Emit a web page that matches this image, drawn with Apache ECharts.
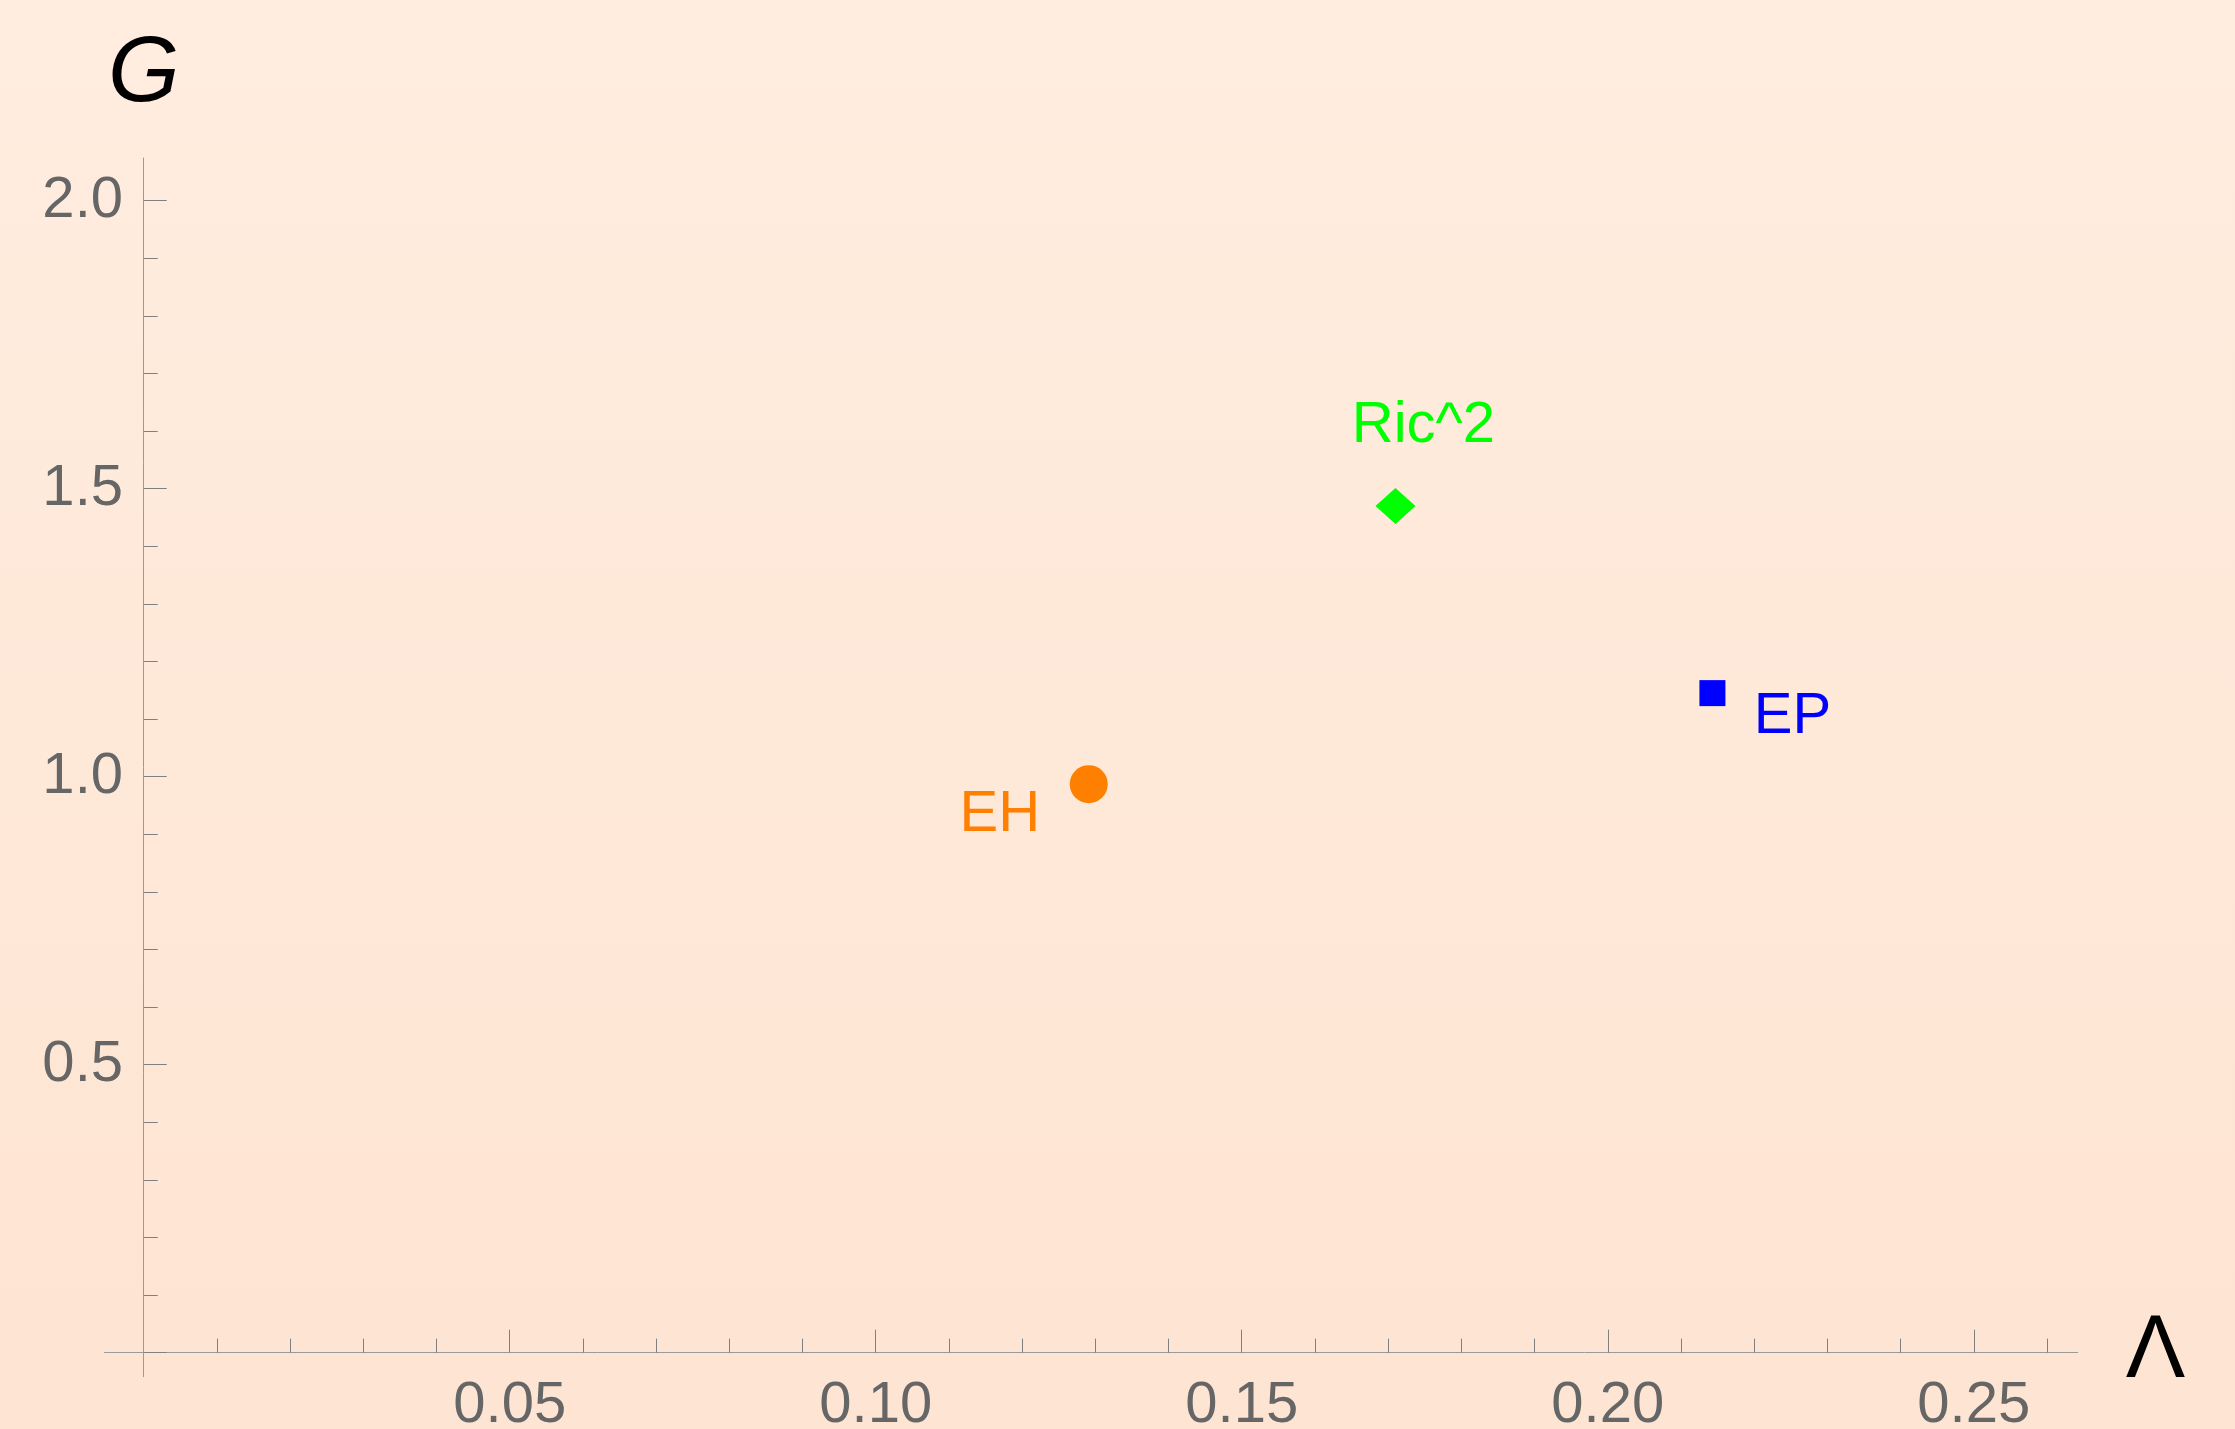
<!DOCTYPE html>
<html>
<head>
<meta charset="utf-8">
<title>G vs Λ</title>
<script src="https://cdn.jsdelivr.net/npm/echarts@6/dist/echarts.min.js"></script>
<style>
  html, body { margin: 0; padding: 0; background: #FFE9D8; }
  #chart { width: 2235px; height: 1429px; }
</style>
</head>
<body>
<div id="chart"></div>
<script>
// Points: Λ (horizontal) against G (vertical)
const pointNames = ['EH', 'Ric^2', 'EP'];
const lambdaValues = [0.1291, 0.1710, 0.2143];
const gValues = [0.987, 1.470, 1.145];

// Tick positions
const xMajorTicks = [0.05, 0.10, 0.15, 0.20, 0.25];
const xMinorTicks = [0.01, 0.02, 0.03, 0.04, 0.06, 0.07, 0.08, 0.09,
                     0.11, 0.12, 0.13, 0.14, 0.16, 0.17, 0.18, 0.19,
                     0.21, 0.22, 0.23, 0.24, 0.26];
const yMajorTicks = [0, 0.5, 1.0, 1.5, 2.0];
const yLabelTicks = [0.5, 1.0, 1.5, 2.0];
const yMinorTicks = [0.1, 0.2, 0.3, 0.4, 0.6, 0.7, 0.8, 0.9,
                     1.1, 1.2, 1.3, 1.4, 1.6, 1.7, 1.8, 1.9];

// Axis extents (axes cross at the origin and overhang slightly)
const xRange = [-0.00536, 0.2642];
const yRange = [-0.0417, 2.074];

const FONT = "'Liberation Sans', Arial, Helvetica, sans-serif";
const AXIS_GRAY = '#9a9a9a';
const TICK_GRAY = '#808080';
const LABEL_GRAY = '#666666';

const markerStyles = [
  { symbol: 'circle',  size: 38,       color: '#FF7F00', offset: [-89, 31] },
  { symbol: 'diamond', size: [40, 36], color: '#00FF00', offset: [28, -80] },
  { symbol: 'rect',    size: 26,       color: '#0000FF', offset: [80, 24] }
];

const chart = echarts.init(document.getElementById('chart'), null, { renderer: 'canvas' });

function mainAxis(range, dim) {
  const isX = dim === 'x';
  return {
    type: 'value',
    min: range[0],
    max: range[1],
    position: isX ? 'bottom' : 'left',
    splitLine: { show: false },
    axisLine: { show: true, onZero: true, lineStyle: { color: AXIS_GRAY, width: 1 } },
    axisTick: {
      show: true, inside: true, length: 23,
      lineStyle: { color: TICK_GRAY, width: 1 },
      customValues: isX ? xMajorTicks : yMajorTicks
    },
    axisLabel: {
      show: true,
      customValues: isX ? xMajorTicks : yLabelTicks,
      formatter: v => isX ? v.toFixed(2) : v.toFixed(1),
      color: LABEL_GRAY,
      fontFamily: FONT,
      fontSize: 58,
      margin: isX ? 0 : -18.5
    },
    name: isX ? 'Λ' : 'G',
    nameLocation: 'end',
    nameGap: isX ? 48 : 37,
    nameTextStyle: isX
      ? { color: '#000', fontFamily: FONT, fontSize: 89, align: 'left', verticalAlign: 'middle', padding: [22, 0, 0, 0] }
      : { color: '#000', fontFamily: FONT, fontSize: 92, fontStyle: 'italic', align: 'center', verticalAlign: 'bottom' }
  };
}

function minorAxis(range, dim) {
  const isX = dim === 'x';
  return {
    type: 'value',
    min: range[0],
    max: range[1],
    position: isX ? 'bottom' : 'left',
    splitLine: { show: false },
    axisLine: { show: false, onZero: true },
    axisTick: {
      show: true, inside: true, length: 14,
      lineStyle: { color: TICK_GRAY, width: 1 },
      customValues: isX ? xMinorTicks : yMinorTicks
    },
    axisLabel: { show: false }
  };
}

const series = pointNames.map((name, i) => ({
  name: name,
  type: 'scatter',
  xAxisIndex: 0,
  yAxisIndex: 0,
  symbol: markerStyles[i].symbol,
  symbolSize: markerStyles[i].size,
  itemStyle: { color: markerStyles[i].color, opacity: 1 },
  label: {
    show: true,
    position: 'inside',
    offset: markerStyles[i].offset,
    formatter: name,
    color: markerStyles[i].color,
    fontFamily: FONT,
    fontSize: 58,
    align: 'center',
    verticalAlign: 'middle'
  },
  emphasis: { disabled: true },
  data: [[lambdaValues[i], gValues[i]]]
}));

chart.setOption({
  animation: false,
  backgroundColor: {
    type: 'linear', x: 0, y: 0, x2: 0, y2: 1,
    colorStops: [
      { offset: 0, color: '#FFEDDF' },
      { offset: 1, color: '#FEE4D2' }
    ]
  },
  grid: {
    left: 104.5, top: 158, width: 1973.2, height: 1218.7,
    containLabel: false, outerBoundsMode: 'none'
  },
  xAxis: [mainAxis(xRange, 'x'), minorAxis(xRange, 'x')],
  yAxis: [mainAxis(yRange, 'y'), minorAxis(yRange, 'y')],
  series: series
});
</script>
</body>
</html>
